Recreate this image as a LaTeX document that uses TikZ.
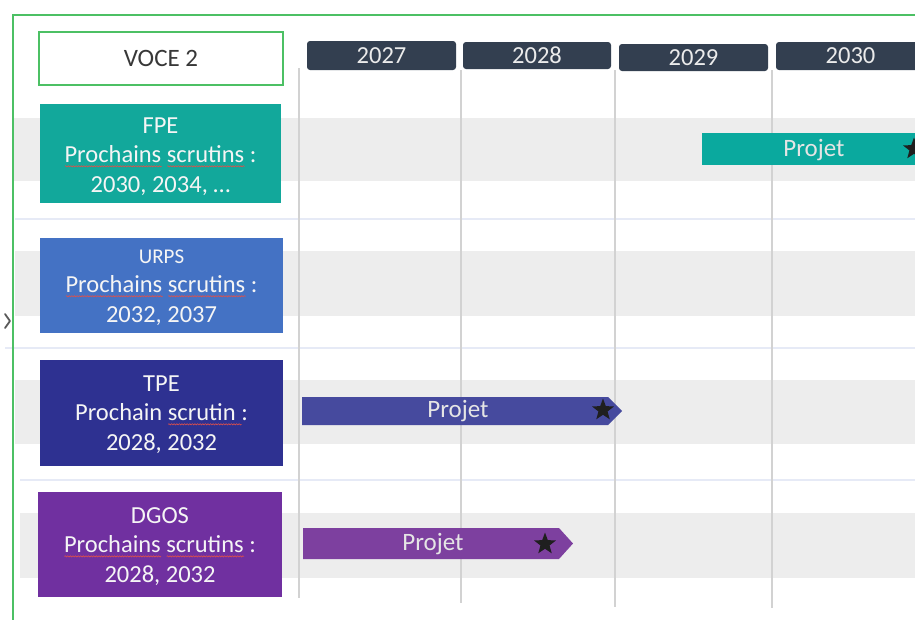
\documentclass[tikz,border=0pt]{standalone}
\usepackage{fontspec}
\setmainfont{Carlito}
\usetikzlibrary{shapes.geometric,decorations.pathmorphing}
\definecolor{fpec}{HTML}{12A89B}
\definecolor{urpsc}{HTML}{4472C4}
\definecolor{tpec}{HTML}{2E3191}
\definecolor{dgosc}{HTML}{7030A0}
\definecolor{fpebar}{HTML}{0AA99E}
\definecolor{tpebar}{HTML}{464A9E}
\definecolor{dgosbar}{HTML}{7D409F}
\definecolor{hdr}{HTML}{333F50}
\definecolor{bandgray}{HTML}{EDEDED}
\definecolor{sepblue}{HTML}{E6EAF6}
\definecolor{gridgray}{HTML}{D2D2D2}
\definecolor{frame}{HTML}{4CC064}
\definecolor{spell}{HTML}{E0504A}
\newsavebox\sqbox
\newlength\sqlen
\newcommand\squig[1]{\sbox\sqbox{#1}\setlength\sqlen{\wd\sqbox}\rlap{\tikz[baseline=0pt]\draw[fill=none,draw=spell,line width=0.6pt,rounded corners=0pt,decorate,decoration={snake,amplitude=0.6pt,segment length=2.6pt}] (0pt,-3.5pt) -- (\sqlen,-3.5pt);}\usebox\sqbox}
\tikzset{
  catbox/.style={rectangle, inner sep=0pt},
  catlabel/.style={inner sep=0pt, text=white!96!black, align=center, font=\fontsize{24.5}{29.5}\selectfont},
  yearbox/.style={rectangle, rounded corners=3pt, fill=hdr, text=white!92!black, font=\fontsize{24.5}{26}\selectfont, inner sep=0pt},
  barlabel/.style={inner sep=0pt, text=white!90!black, font=\fontsize{25}{28}\selectfont},
  starmark/.style={star, star points=5, star point ratio=2.4, fill=black!88, minimum size=23, inner sep=0pt},
  band/.style={fill=bandgray},
  sepline/.style={draw=sepblue, line width=1.3pt},
  gridline/.style={draw=gridgray, line width=1.4pt},
}
\begin{document}
\begin{tikzpicture}[x=1pt,y=-1pt]
\useasboundingbox (0,0) rectangle (915,619);
\clip (0,0) rectangle (915,619);
% bands
\fill[band] (13,118) rectangle (915,181);
\fill[band] (15,251) rectangle (915,316);
\fill[band] (15,380) rectangle (915,444);
\fill[band] (20,513) rectangle (915,578);
% separators
\draw[sepline] (15,219) -- (915,219);
\draw[sepline] (5,348) -- (915,348);
\draw[sepline] (20,480) -- (915,480);
% grid lines
\draw[gridline] (299,68) -- (299,598);
\draw[gridline] (461,70) -- (461,603);
\draw[gridline] (615,70) -- (615,607);
\draw[gridline] (772,70) -- (772,608);
% outer frame
\draw[frame, line width=2.5pt] (13,15) rectangle (940,650);
% chevron
\draw[black!65, line width=1.8pt, line cap=round, line join=round] (5,314) -- (10,321) -- (5,328);
% headers
\node[yearbox, minimum width=149, minimum height=29] (y27) at (381.5,55.5) {2027};
\node[yearbox, minimum width=148, minimum height=27] (y28) at (537,55.5) {2028};
\node[yearbox, minimum width=149, minimum height=27] (y29) at (693.5,57.5) {2029};
\node[yearbox, minimum width=149, minimum height=28] (y30) at (850.5,56) {2030};
% VOCE 2
\node[rectangle, draw=frame, line width=2pt, fill=white, minimum width=244, minimum height=53, text=black!78, font=\fontsize{25}{28}\selectfont] (voce) at (161,58.5) {VOCE 2};
% category boxes
\node[catbox, fill=fpec, minimum width=241, minimum height=99] (fpe) at (160.5,153.5) {};
\node[catlabel] (fpet) at ([yshift=-3pt]fpe.center) {FPE\\\squig{Prochains} \squig{scrutins} :\\2030, 2034, …};
\node[catbox, fill=urpsc, minimum width=243, minimum height=95] (urps) at (161.5,285.5) {};
\node[catlabel] (urpst) at ([yshift=-2pt]urps.center) {{\fontsize{21}{29.5}\selectfont URPS}\\\squig{Prochains} \squig{scrutins} :\\2032, 2037};
\node[catbox, fill=tpec, minimum width=243, minimum height=106] (tpe) at (161.5,413) {};
\node[catlabel] (tpet) at ([yshift=-1.5pt]tpe.center) {TPE\\Prochain \squig{scrutin }:\\2028, 2032};
\node[catbox, fill=dgosc, minimum width=244, minimum height=105] (dgos) at (160,544.5) {};
\node[catlabel] (dgost) at ([yshift=-2pt]dgos.center) {DGOS\\\squig{Prochains} \squig{scrutins} :\\2028, 2032};
% bars
\fill[fpebar] (702,133) -- (935,133) -- (935,165) -- (702,165) -- cycle;
\node[barlabel] (pfpe) at (814,150) {Projet};
\node[starmark] (sfpe) at (914,149) {};
\fill[tpebar] (302,397) -- (608,397) -- (622,411) -- (608,425) -- (302,425) -- cycle;
\node[barlabel] (ptpe) at (458,411) {Projet};
\node[starmark] (stpe) at (603,410) {};
\fill[dgosbar] (303,528) -- (559,528) -- (573,543.5) -- (559,559) -- (303,559) -- cycle;
\node[barlabel] (pdgos) at (433,544) {Projet};
\node[starmark] (sdgos) at (545,544) {};
\end{tikzpicture}
\end{document}
